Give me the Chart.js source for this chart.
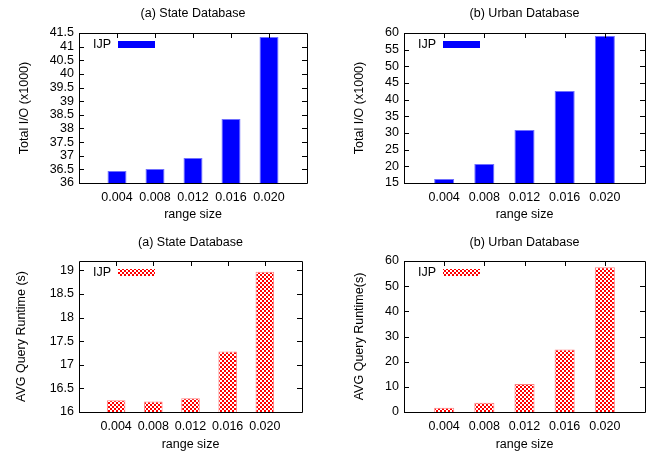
<!DOCTYPE html>
<html>
<head>
<meta charset="utf-8">
<script src="https://cdn.jsdelivr.net/npm/chart.js@4.4.1/dist/chart.umd.min.js"></script>
<style>
  html, body { margin: 0; padding: 0; background: #fff; }
  #wrap { position: relative; width: 665px; height: 456px; }
  #wrap canvas { position: absolute; }
</style>
</head>
<body>
<div id="wrap">
  <canvas id="c1" width="332" height="228" style="left:0;top:0"></canvas>
  <canvas id="c2" width="333" height="228" style="left:332px;top:0"></canvas>
  <canvas id="c3" width="332" height="228" style="left:0;top:228px"></canvas>
  <canvas id="c4" width="333" height="228" style="left:332px;top:228px"></canvas>
</div>
<script>
// data
const rangeSizes = ['0.004', '0.008', '0.012', '0.016', '0.020'];
const stateIO = [36.44, 36.51, 36.92, 38.35, 41.35];      // x1000
const urbanIO = [16.2, 20.7, 30.9, 42.6, 59.1];           // x1000
const stateRuntime = [16.25, 16.22, 16.29, 17.28, 18.97]; // s
const urbanRuntime = [1.7, 3.7, 11.1, 24.8, 57.5];        // s
const seriesName = 'IJP';

Chart.defaults.font.family = "'Liberation Sans', Arial, sans-serif";
Chart.defaults.font.size = 12.5;
Chart.defaults.color = '#000';

// gnuplot-like red checker fill
function checkerPattern(){
  const p = document.createElement('canvas');
  p.width = 4; p.height = 4;
  const g = p.getContext('2d');
  g.fillStyle = '#ff0000';
  g.fillRect(0,0,4,4);
  g.fillStyle = '#ffffff';
  g.fillRect(0,0,2,2);
  g.fillRect(2,2,2,2);
  return g.createPattern(p, 'repeat');
}
const redFill = checkerPattern();

// frame with inward ticks, title and key, drawn on top like gnuplot
const gnuplotLook = {
  id: 'gnuplotLook',
  afterDraw(chart, args, o){
    const {ctx, chartArea:a} = chart;
    const xs = chart.scales.x, ys = chart.scales.y;
    ctx.save();
    ctx.strokeStyle = '#000';
    ctx.lineWidth = 1;
    ctx.beginPath();
    ctx.rect(Math.round(a.left)+0.5, Math.round(a.top)+0.5, Math.round(a.right-a.left), Math.round(a.bottom-a.top));
    ys.ticks.forEach((t,i) => {
      const y = Math.round(ys.getPixelForTick(i))+0.5;
      ctx.moveTo(a.left, y); ctx.lineTo(a.left+5, y);
      ctx.moveTo(a.right, y); ctx.lineTo(a.right-5, y);
    });
    xs.ticks.forEach((t,i) => {
      if(!xs.getLabelForValue(t.value)) return;
      const x = Math.round(xs.getPixelForTick(i))+0.5;
      ctx.moveTo(x, a.top); ctx.lineTo(x, a.top+5);
    });
    ctx.stroke();

    // panel title
    ctx.fillStyle = '#000';
    ctx.font = "12.5px 'Liberation Sans', Arial, sans-serif";
    ctx.textAlign = 'center';
    ctx.textBaseline = 'middle';
    ctx.fillText(o.text, (a.left+a.right)/2, o.titleY);

    // key
    const bx = a.left + 39, by = a.top + 8;
    ctx.textAlign = 'right';
    ctx.fillText(seriesName, bx - 7, by + 3.5);
    ctx.fillStyle = chart.data.datasets[0].backgroundColor;
    ctx.fillRect(bx, by, 37, 7);
    ctx.restore();
  }
};

function makePanel(id, p){
  const labels = [''].concat(rangeSizes, ['']);
  const values = [null].concat(p.values, [null]);
  return new Chart(document.getElementById(id), {
    type: 'bar',
    data: {
      labels: labels,
      datasets: [{
        label: seriesName,
        data: values,
        backgroundColor: p.fill,
        borderColor: p.edge,
        borderWidth: 1,
        barPercentage: 1,
        categoryPercentage: 0.5
      }]
    },
    options: {
      responsive: false,
      animation: false,
      events: [],
      layout: { padding: { top: 33, right: p.padRight, left: 0, bottom: 0 } },
      plugins: {
        legend: { display: false },
        title: { display: false },
        tooltip: { enabled: false },
        gnuplotLook: { text: p.title, titleY: p.titleY }
      },
      scales: {
        x: {
          offset: false,
          grid: { display: false, drawTicks: false },
          border: { display: false },
          ticks: { padding: 7, maxRotation: 0, autoSkip: false },
          title: { display: true, text: 'range size', padding: { top: 0, bottom: p.xTitlePad } },
          afterFit: s => { s.height = p.xHeight; }
        },
        y: {
          min: p.min, max: p.max,
          grid: { display: false, drawTicks: false },
          border: { display: false },
          ticks: {
            stepSize: p.step, padding: 5, includeBounds: false, autoSkip: false,
            callback: v => String(+v.toFixed(2))
          },
          title: { display: true, text: p.yTitle, padding: { top: p.yTitlePad, bottom: 0 } },
          afterFit: s => { s.width = p.yWidth; }
        }
      }
    },
    plugins: [gnuplotLook]
  });
}

makePanel('c1', {
  title: '(a) State Database', titleY: 14, values: stateIO,
  fill: '#0000ff', edge: '#7070ff',
  yTitle: 'Total I/O (x1000)', yTitlePad: 17.5, yWidth: 79, padRight: 25,
  xHeight: 45, xTitlePad: 5.5, min: 36, max: 41.5, step: 0.5
});
makePanel('c2', {
  title: '(b) Urban Database', titleY: 14, values: urbanIO,
  fill: '#0000ff', edge: '#7070ff',
  yTitle: 'Total I/O (x1000)', yTitlePad: 20.5, yWidth: 72, padRight: 20,
  xHeight: 45, xTitlePad: 5.5, min: 15, max: 60, step: 5
});
makePanel('c3', {
  title: '(a) State Database', titleY: 15, values: stateRuntime,
  fill: redFill, edge: '#ff8080',
  yTitle: 'AVG Query Runtime (s)', yTitlePad: 14.5, yWidth: 79, padRight: 30,
  xHeight: 44, xTitlePad: 3.5, min: 16, max: 19.2, step: 0.5
});
makePanel('c4', {
  title: '(b) Urban Database', titleY: 15, values: urbanRuntime,
  fill: redFill, edge: '#ff8080',
  yTitle: 'AVG Query Runtime(s)', yTitlePad: 20.5, yWidth: 72, padRight: 20,
  xHeight: 44, xTitlePad: 3.5, min: 0, max: 60, step: 10
});
</script>
</body>
</html>
